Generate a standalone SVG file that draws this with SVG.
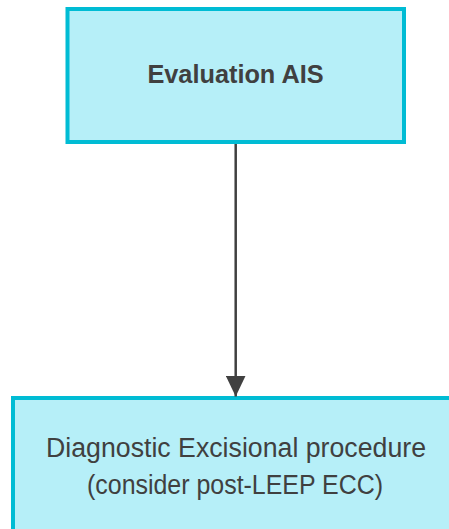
<svg xmlns="http://www.w3.org/2000/svg" width="449" height="529" viewBox="0 0 449 529">
<style>
.box{fill:#b6eff8;stroke:#00bcd4;stroke-width:4}
.t{font-family:"Liberation Sans",Arial,sans-serif;fill:#404040;text-anchor:middle}
.b{font-weight:bold;font-size:25.3px}
.n{font-size:26.8px}
.edge{stroke:#404040;stroke-width:2.5;fill:none}
</style>
<defs>
<marker id="ah" markerUnits="userSpaceOnUse" markerWidth="22" markerHeight="20" refX="21" refY="10" orient="auto">
<path d="M0,0 L21,10 L0,20 Z" fill="#404040"/>
</marker>
</defs>
<g id="n1">
<rect class="box" x="67.5" y="9" width="336.5" height="133"/>
<text class="t b" x="235.5" y="83">Evaluation AIS</text>
</g>
<g id="n2">
<rect class="box" x="13" y="398" width="460" height="160"/>
<text class="t n" x="236" y="457" textLength="380" lengthAdjust="spacingAndGlyphs">Diagnostic Excisional procedure</text>
<text class="t n" x="235" y="494" textLength="296" lengthAdjust="spacingAndGlyphs">(consider post-LEEP ECC)</text>
</g>
<g id="edges">
<path class="edge" d="M235.7,144 L235.7,396.5" marker-end="url(#ah)"/>
</g>
</svg>
